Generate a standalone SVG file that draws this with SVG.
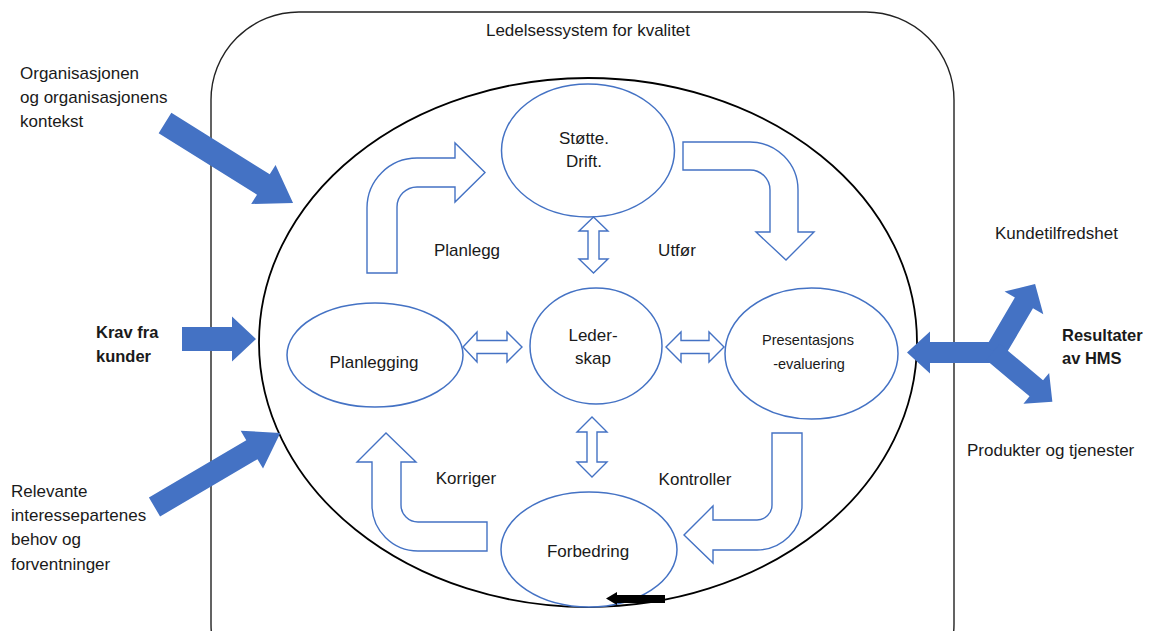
<svg xmlns="http://www.w3.org/2000/svg" width="1149" height="631" viewBox="0 0 1149 631">
  <style>
    .t { font-family: "Liberation Sans", Arial, sans-serif; font-size: 17px; fill: #1a1a1a; }
    .c { text-anchor: middle; }
    .b { font-weight: bold; font-size: 16.5px; }
    .sm { font-size: 14.5px; }
    .md { font-size: 17px; }
    .node { fill: #ffffff; stroke: #4472c4; stroke-width: 1.5; }
    .hollow { fill: #ffffff; stroke: #4472c4; stroke-width: 1.4; stroke-linejoin: miter; }
    .solid { fill: #4472c4; stroke: none; }
  </style>

  <rect width="1149" height="631" fill="#ffffff"/>

  <!-- outer system frame -->
  <g id="system">
    <rect x="211" y="12" width="743" height="700" rx="88" ry="88" fill="none" stroke="#222" stroke-width="1.4"/>
    <text class="t md c" x="588" y="36">Ledelsessystem for kvalitet</text>
  </g>

  <!-- main cycle boundary -->
  <g id="cycle">
    <ellipse cx="588" cy="342.5" rx="329" ry="264.5" fill="none" stroke="#000" stroke-width="1.8"/>
  </g>

  <!-- process nodes -->
  <g id="stotte">
    <ellipse class="node" cx="588" cy="150.5" rx="86.5" ry="66.5"/>
    <text class="t md c" x="584" y="144">Støtte.</text>
    <text class="t md c" x="584" y="167">Drift.</text>
  </g>
  <g id="lederskap">
    <ellipse class="node" cx="596" cy="346" rx="66" ry="58"/>
    <text class="t md c" x="593" y="341">Leder-</text>
    <text class="t md c" x="593" y="364">skap</text>
  </g>
  <g id="planlegging">
    <ellipse class="node" cx="375" cy="355" rx="88" ry="52"/>
    <text class="t md c" x="374" y="368">Planlegging</text>
  </g>
  <g id="evaluering">
    <ellipse class="node" cx="811.5" cy="353.5" rx="86.5" ry="65.5"/>
    <text class="t sm c" x="808" y="345">Presentasjons</text>
    <text class="t sm c" x="809" y="369">-evaluering</text>
  </g>
  <g id="forbedring">
    <ellipse class="node" cx="589" cy="549.5" rx="88" ry="57.5"/>
    <text class="t md c" x="588" y="557">Forbedring</text>
  </g>

  <!-- cycle step labels -->
  <g id="step-labels">
    <text class="t md c" x="467" y="256">Planlegg</text>
    <text class="t md c" x="677" y="256">Utfør</text>
    <text class="t md c" x="466" y="484">Korriger</text>
    <text class="t md c" x="695" y="485">Kontroller</text>
  </g>

  <!-- external inputs and outputs -->
  <g id="input-context">
    <text class="t" x="20" y="79">Organisasjonen</text>
    <text class="t" x="20" y="103">og organisasjonens</text>
    <text class="t" x="20" y="127">kontekst</text>
  </g>
  <g id="input-customers">
    <text class="t b" x="96" y="338">Krav fra</text>
    <text class="t b" x="96" y="362">kunder</text>
  </g>
  <g id="input-stakeholders">
    <text class="t" x="11" y="497">Relevante</text>
    <text class="t" x="11" y="521">interessepartenes</text>
    <text class="t" x="11" y="545">behov og</text>
    <text class="t" x="11" y="570">forventninger</text>
  </g>
  <g id="output-satisfaction">
    <text class="t" x="995" y="239">Kundetilfredshet</text>
  </g>
  <g id="output-results">
    <text class="t b" x="1062" y="341">Resultater</text>
    <text class="t b" x="1062" y="364">av HMS</text>
  </g>
  <g id="output-products">
    <text class="t" x="967" y="456">Produkter og tjenester</text>
  </g>

  <!-- connectors -->
  <g id="connectors">
    <!-- bent cycle arrows -->
    <path class="hollow" d="M367,273 L367,208 A50,50 0 0 1 417,158 L455,158 L455,143 L485,172.5 L455,202 L455,187 L417,187 A20,20 0 0 0 397,207 L397,273 Z"/>
    <path class="hollow" d="M683,142 L750,142 A48,48 0 0 1 798,190 L798,232 L814,232 L786,260 L756,232 L770,232 L770,190 A20,20 0 0 0 750,170 L683,170 Z"/>
    <path class="hollow" d="M773,433 L802,433 L802,505 A45,45 0 0 1 757,550 L713,550 L713,563 L684,535 L713,506 L713,520 L757,520 A15,15 0 0 0 772,505 L772,433 Z"/>
    <path class="hollow" d="M487,522 L487,551 L418,551 A46,46 0 0 1 372,505 L372,462 L357,462 L386,433 L416,462 L401,462 L401,505 A17,17 0 0 0 418,522 Z"/>

    <!-- two-way links to leadership -->
    <polygon class="hollow" points="593.5,217 608,231 599,231 599,259 608,259 593.5,273 579,259 588,259 588,231 579,231"/>
    <polygon class="hollow" points="592,417 607,432 597,432 597,462 607,462 592,477 577,462 587,462 587,432 577,432"/>
    <polygon class="hollow" points="463,347 477,332 477,340.5 507,340.5 507,332 522,347 507,362 507,353.5 477,353.5 477,362"/>
    <polygon class="hollow" points="666,347 681,332 681,340.5 709,340.5 709,332 724,347 709,362 709,353.5 681,353.5 681,362"/>

    <!-- inputs -->
    <polygon class="solid" transform="translate(165,123) rotate(32)" points="0,-12 116,-12 116,-23 151,0 116,23 116,12 0,12"/>
    <polygon class="solid" transform="translate(182,339)" points="0,-12 50,-12 50,-22.5 74,0 50,22.5 50,12 0,12"/>
    <polygon class="solid" transform="translate(154.5,507) rotate(-30.5)" points="0,-11 113,-11 113,-22 146,0 113,22 113,11 0,11"/>

    <!-- outputs -->
    <polygon class="solid" points="907,352.5 930,331.5 930,342 1005,342 1005,363 930,363 930,373.5"/>
    <polygon class="solid" transform="translate(995,352) rotate(-59.5)" points="0,-10.5 57,-10.5 57,-22.5 79,0 57,22.5 57,10.5 0,10.5"/>
    <polygon class="solid" transform="translate(993,352) rotate(40)" points="0,-10.5 56.5,-10.5 56.5,-20 77.5,0 56.5,20 56.5,10.5 0,10.5"/>

    <!-- direction mark on the cycle -->
    <polygon fill="#000" points="606,598.5 617,592 617,595 665,595 665,603 617,603 617,605"/>
  </g>
</svg>
